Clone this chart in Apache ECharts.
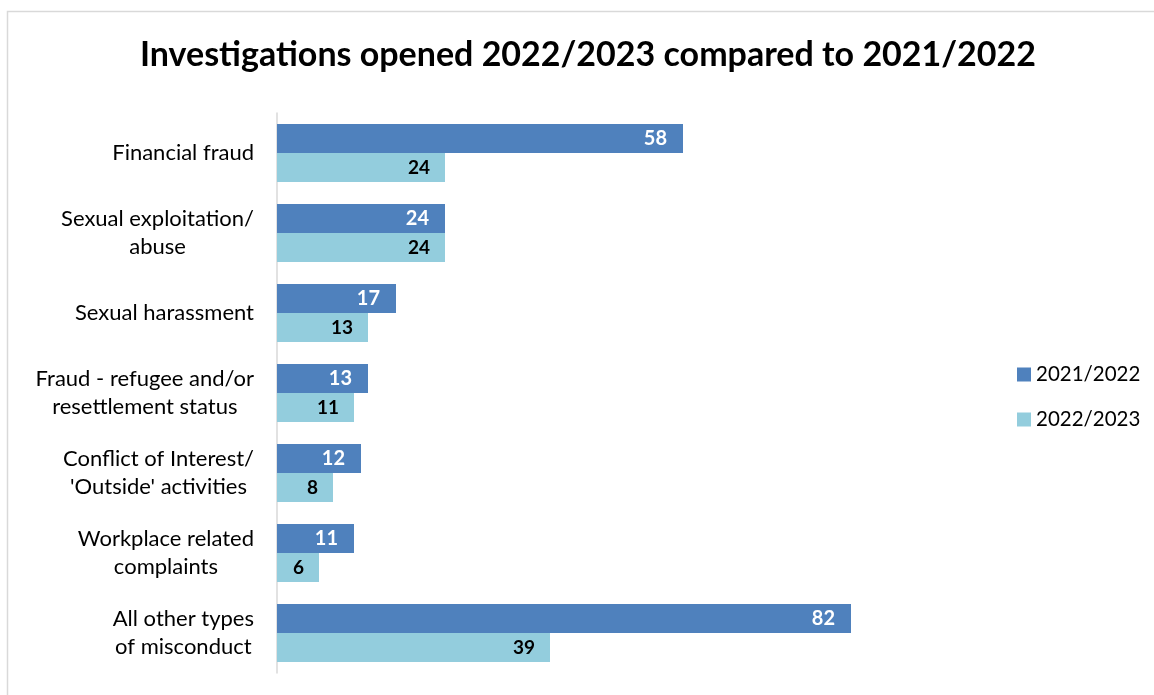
<!DOCTYPE html>
<html><head><meta charset="utf-8">
<script src="https://cdn.jsdelivr.net/npm/echarts@6/dist/echarts.min.js"></script>
<style>html,body{margin:0;padding:0;background:#fff}#c{width:1154px;height:695px}</style>
</head><body><div id="c"></div>
<script>
const categories = ["Financial fraud","Sexual exploitation/\nabuse","Sexual harassment","Fraud - refugee and/or\nresettlement status","Conflict of Interest/\n'Outside' activities","Workplace related\ncomplaints","All other types\nof misconduct"];
const seriesNames = ["2021/2022","2022/2023"];
const values2122 = [58,24,17,13,12,11,82];
const values2223 = [24,24,13,11,8,6,39];
const FONT = "Lato, 'Liberation Sans', sans-serif";
const chart = echarts.init(document.getElementById('c'));
chart.setOption({
  animation:false,
  backgroundColor:'#fff',
  graphic:[{type:'rect',shape:{x:7.5,y:11.5,width:1200,height:720},style:{fill:'none',stroke:'#d9d9d9',lineWidth:1.5},silent:true}],
  title:{text:'Investigations opened 2022/2023 compared to 2021/2022',left:135,top:33,
    textStyle:{fontFamily:FONT,fontWeight:'bold',fontSize:34,color:'#000'}},
  legend:{orient:'vertical',left:1012,top:359,itemWidth:14,itemHeight:14,itemGap:24,icon:'rect',
    textStyle:{fontFamily:FONT,fontSize:20.5,color:'#000'}},
  grid:{left:277,top:113,width:630,height:560,containLabel:false},
  xAxis:{type:'value',min:0,max:90,show:false},
  yAxis:{type:'category',data:categories,inverse:true,
    axisLine:{show:true,lineStyle:{color:'#d9d9d9',width:1.5}},axisTick:{show:false},
    axisLabel:{margin:23,align:'right',
      formatter:function(v){return v.split('\n').map(function(s){return '{c|'+s+'}';}).join('\n');},
      rich:{c:{fontFamily:FONT,fontSize:22,color:'#000',lineHeight:28,align:'center'}}}},
  series:[
    {name:seriesNames[0],type:'bar',data:values2122,barGap:'0%',barCategoryGap:'27.5%',
     itemStyle:{color:'#4F81BD'},
     label:{show:true,position:'insideRight',distance:16,color:'#fff',fontFamily:FONT,fontWeight:'bold',fontSize:20}},
    {name:seriesNames[1],type:'bar',data:values2223,barGap:'0%',barCategoryGap:'27.5%',
     itemStyle:{color:'#93CDDD'},
     label:{show:true,position:'insideRight',distance:15,color:'#000',fontFamily:FONT,fontWeight:'bold',fontSize:19}}
  ]
});
</script></body></html>
